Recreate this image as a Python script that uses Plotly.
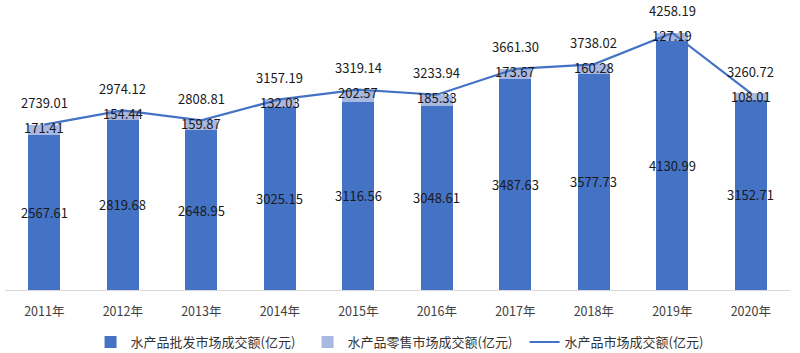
import plotly.graph_objects as go

years = ["2011年", "2012年", "2013年", "2014年", "2015年", "2016年", "2017年", "2018年", "2019年", "2020年"]
wholesale = [2567.61, 2819.68, 2648.95, 3025.15, 3116.56, 3048.61, 3487.63, 3577.73, 4130.99, 3152.71]
retail = [171.41, 154.44, 159.87, 132.03, 202.57, 185.33, 173.67, 160.28, 127.19, 108.01]
total = [2739.01, 2974.12, 2808.81, 3157.19, 3319.14, 3233.94, 3661.30, 3738.02, 4258.19, 3260.72]

names = ["水产品批发市场成交额(亿元)", "水产品零售市场成交额(亿元)", "水产品市场成交额(亿元)"]

FONT = "Noto Sans CJK SC"
BLUE = "#4472C4"
LIGHT = "#A9B8E0"

fig = go.Figure()
fig.add_trace(go.Bar(x=years, y=wholesale, name=names[0], marker_color=BLUE,
                     marker_line_width=0, hoverinfo="skip"))
fig.add_trace(go.Bar(x=years, y=retail, name=names[1], marker_color=LIGHT,
                     marker_line_width=0, hoverinfo="skip"))
fig.add_trace(go.Scatter(x=years, y=total, name=names[2], mode="lines",
                         line=dict(color=BLUE, width=2.2), hoverinfo="skip"))

annotations = []
for x, w, r, t in zip(years, wholesale, retail, total):
    annotations.append(dict(x=x, y=w / 2, text=f"{w:.2f}", showarrow=False,
                            font=dict(size=13, color="#1a1a1a", family=FONT)))
    annotations.append(dict(x=x, y=t, yshift=-3, text=f"{r:.2f}", showarrow=False,
                            font=dict(size=13, color="#1a1a1a", family=FONT)))
    annotations.append(dict(x=x, y=t, yshift=22, text=f"{t:.2f}", showarrow=False,
                            font=dict(size=13, color="#1a1a1a", family=FONT)))

fig.update_layout(
    width=800, height=353,
    margin=dict(l=5, r=10, t=5, b=63, autoexpand=False),
    barmode="stack",
    bargap=0.59,
    plot_bgcolor="white",
    paper_bgcolor="white",
    font=dict(family=FONT, size=13, color="#404040"),
    showlegend=True,
    legend=dict(orientation="h", x=0.109, xanchor="left",
                yref="container", y=0.031, yanchor="middle",
                entrywidth=172, entrywidthmode="pixels",
                font=dict(size=13, color="#333333", family=FONT),
                traceorder="normal"),
    annotations=annotations,
    xaxis=dict(showgrid=False, showline=True, linecolor="#D9D9D9", linewidth=1,
               ticks="", tickfont=dict(size=12.5, color="#404040", family=FONT),
               ticklabelstandoff=10, automargin=False),
    yaxis=dict(visible=False, range=[0, 4720], showgrid=False, zeroline=False),
)

fig.write_html("out.html")
